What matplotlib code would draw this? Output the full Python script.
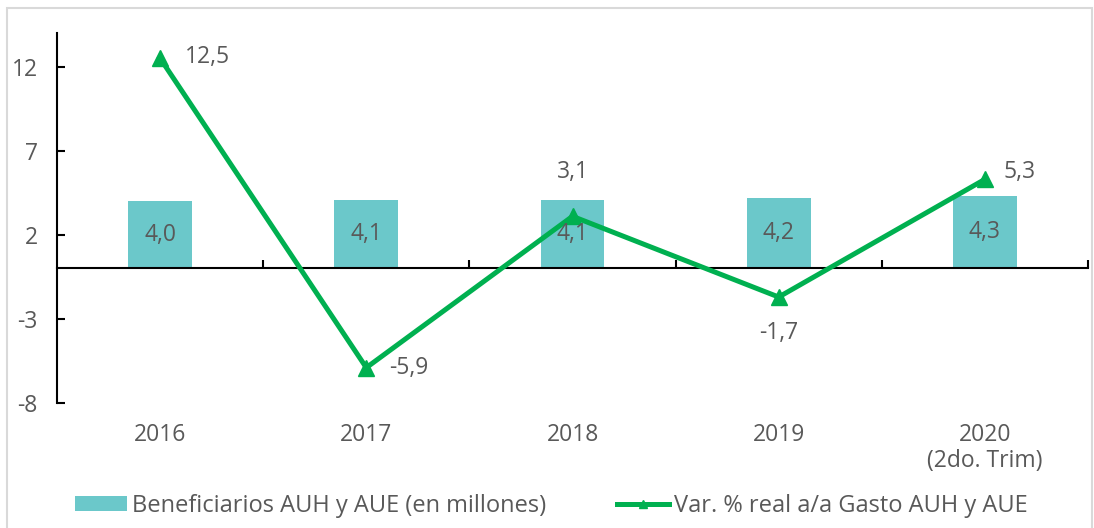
import matplotlib
matplotlib.use("Agg")
import matplotlib.pyplot as plt
from matplotlib.patches import Rectangle
from matplotlib.lines import Line2D

# datos
anios = ["2016", "2017", "2018", "2019", "2020\n(2do. Trim)"]
beneficiarios = [4.0, 4.1, 4.1, 4.2, 4.3]
var_gasto = [12.5, -5.9, 3.1, -1.7, 5.3]
etiq_ben = ["4,0", "4,1", "4,1", "4,2", "4,3"]
etiq_var = ["12,5", "-5,9", "3,1", "-1,7", "5,3"]

plt.rcParams['font.family'] = ['Open Sans', 'DejaVu Sans']
plt.rcParams['axes.unicode_minus'] = False
gris = '#595959'
teal = '#6BC8CA'
verde = '#00B050'
fs = 16.5

fig = plt.figure(figsize=(10.94, 5.28), dpi=100)
ax = fig.add_axes([57/1094, 1-403/528, (1088-57)/1094, 370/528])

x = list(range(len(anios)))
barras = ax.bar(x, beneficiarios, width=0.31, color=teal, zorder=2)
ax.plot(x, var_gasto, color=verde, lw=3.6, marker='^', markersize=12, zorder=3)

for i, v in enumerate(beneficiarios):
    ax.text(i, v / 2, etiq_ben[i], ha='center', va='center', fontsize=fs, color=gris, zorder=4)

# posiciones de las etiquetas de la linea
offs = [(0.12, 0.1, 'left'), (0.11, 0.0, 'left'), (0.0, 2.65, 'center'),
        (0.0, -2.15, 'center'), (0.09, 0.45, 'left')]
for i, v in enumerate(var_gasto):
    dx, dy, ha = offs[i]
    ax.text(i + dx, v + dy, etiq_var[i], ha=ha, va='center', fontsize=fs, color=gris, zorder=4)

ax.set_xlim(-0.5, 4.5)
ax.set_ylim(-8, 14)
ax.set_yticks([12, 7, 2, -3, -8])
ax.tick_params(axis='y', direction='in', length=6, width=1.5, colors='black',
               labelcolor=gris, labelsize=fs, pad=14)

ax.spines['top'].set_visible(False)
ax.spines['right'].set_visible(False)
ax.spines['bottom'].set_position(('data', 0))
for s in ['left', 'bottom']:
    ax.spines[s].set_linewidth(1.5)

ax.set_xticks(x)
ax.set_xticklabels(anios)
ax.set_xticks([0.5, 1.5, 2.5, 3.5, 4.5], minor=True)
ax.tick_params(axis='x', which='major', length=0, labelcolor=gris, labelsize=fs, pad=111)
ax.tick_params(axis='x', which='minor', direction='in', length=6, width=1.5)
for lbl in ax.get_xticklabels():
    lbl.set_linespacing(1.15)

linea_leg = Line2D([], [], color=verde, lw=3.6, marker='^', markersize=6)
fig.legend([barras, linea_leg],
           ["Beneficiarios AUH y AUE (en millones)", "Var. % real a/a Gasto AUH y AUE"],
           loc='center', bbox_to_anchor=(0.504, 1-506/528), ncol=2, frameon=False,
           fontsize=17, labelcolor=gris, handlelength=2.2, handleheight=0.6,
           handletextpad=0.2, columnspacing=3.0)

fig.patches.append(Rectangle((7/1094, -0.01), (1092-7)/1094, 1-8/528 + 0.01,
                             transform=fig.transFigure, fill=False,
                             edgecolor='#D9D9D9', lw=1.5))

fig.savefig("out.png", dpi=100)
